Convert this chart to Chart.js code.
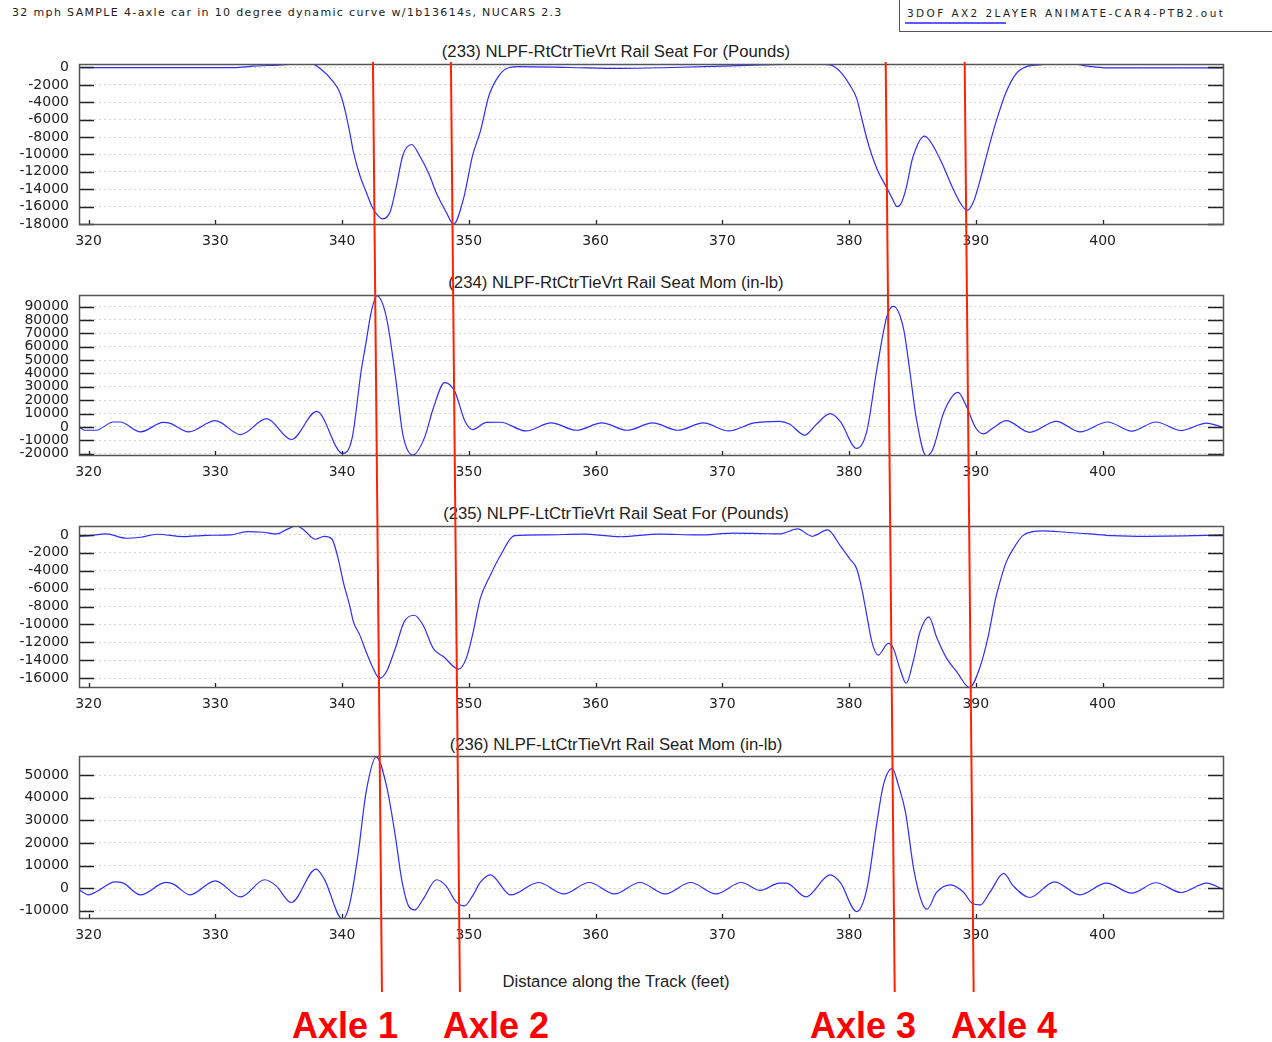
<!DOCTYPE html>
<html><head><meta charset="utf-8">
<script src="https://cdn.jsdelivr.net/npm/chart.js@4.4.1/dist/chart.umd.min.js"></script>
<style>
html,body{margin:0;padding:0;background:#fff;}
body{width:1272px;height:1042px;overflow:hidden;position:relative;font-family:"DejaVu Sans",sans-serif;}
canvas.cv{position:absolute;left:0;}
.t{position:absolute;white-space:nowrap;color:#222;}
.ptitle{font:16.7px "Liberation Sans",Arial,sans-serif;height:20px;line-height:20px;width:1232px;left:0;text-align:center;}
.axle{font:bold 36px "Liberation Sans",Arial,sans-serif;color:#ff0000;height:40px;line-height:40px;}
#overlay{position:absolute;left:0;top:0;pointer-events:none;z-index:5;}
</style></head><body>

<div class="t" style="left:12px;top:5px;font:11px 'DejaVu Sans',sans-serif;letter-spacing:1.35px;line-height:16px;">32 mph SAMPLE 4-axle car in 10 degree dynamic curve w/1b13614s, NUCARS 2.3</div>
<div style="position:absolute;left:899px;top:-2px;width:400px;height:34px;border:1px solid #555;box-sizing:border-box;"></div>
<div class="t" style="left:907px;top:5px;font:10.5px 'DejaVu Sans',sans-serif;letter-spacing:2.4px;line-height:16px;">3DOF AX2 2LAYER ANIMATE-CAR4-PTB2.out</div>
<div style="position:absolute;left:905px;top:22px;width:101px;height:2px;background:#5a5aff;"></div>

<div class="t ptitle" style="top:42px;">(233) NLPF-RtCtrTieVrt Rail Seat For (Pounds)</div>
<div class="t ptitle" style="top:273px;">(234) NLPF-RtCtrTieVrt Rail Seat Mom (in-lb)</div>
<div class="t ptitle" style="top:504px;">(235) NLPF-LtCtrTieVrt Rail Seat For (Pounds)</div>
<div class="t ptitle" style="top:735px;">(236) NLPF-LtCtrTieVrt Rail Seat Mom (in-lb)</div>

<canvas class="cv" id="c1" width="1232" height="220" style="top:44px"></canvas>
<canvas class="cv" id="c2" width="1232" height="220" style="top:275px"></canvas>
<canvas class="cv" id="c3" width="1232" height="221" style="top:506px"></canvas>
<canvas class="cv" id="c4" width="1232" height="222" style="top:736px"></canvas>

<div class="t ptitle" style="top:972px;">Distance along the Track (feet)</div>

<canvas id="overlay" width="1272" height="1042"></canvas>

<div class="t axle" style="left:292px;top:1006px;">Axle 1</div>
<div class="t axle" style="left:443px;top:1006px;">Axle 2</div>
<div class="t axle" style="left:810px;top:1006px;">Axle 3</div>
<div class="t axle" style="left:951px;top:1006px;">Axle 4</div>

<script>
// ---------- data ----------
const xMin = 319.25, xMax = 409.5;
const xTicks = [320, 330, 340, 350, 360, 370, 380, 390, 400];

// (233) Rt rail seat force (lb)
const p1X = [319.25,325,331.5,333,335,336.5,337.6,338.25,339.3,339.8,340.2,340.6,340.9,341.4,341.9,342.4,343.2,343.8,344.3,344.8,345.5,346.1,346.9,347.4,348.2,348.8,349.6,350.3,350.9,351.6,352.4,353.2,354,358,362,366,370,373,376,378,378.5,379.3,380.05,380.6,381.0,381.4,381.8,382.3,383.0,383.4,383.8,384.1,384.5,385.0,385.97,386.6,387.4,388.2,388.9,389.3,389.8,390.3,391.0,391.6,392.4,393.2,394.0,395.0,396.0,398.0,398.8,400.5,409.5];
const p1Y = [-20,-20,-20,150,280,400,400,-100,-1640,-2800,-4700,-7400,-9700,-12400,-14300,-16100,-17400,-16600,-13550,-10100,-8860,-10100,-12400,-14300,-16600,-18000,-15000,-10100,-7400,-3200,-900,0,100,0,-100,0,150,300,380,350,300,-480,-2000,-3550,-5860,-8170,-10100,-12000,-13900,-15050,-16000,-15650,-13900,-10500,-7900,-8940,-11250,-13940,-15870,-16440,-15500,-13150,-9300,-6230,-2800,-670,100,300,400,350,150,-50,-50];

// (234) Rt rail seat moment (in-lb)
const p2X = [319.25,319.7,320.6,321.95,322.5,324.1,325.9,326.4,327.9,330.0,332.0,334.05,336.0,338.0,340.05,340.8,341.5,341.9,342.3,342.75,343.5,344.2,344.8,345.6,346.5,347.2,348.1,348.9,349.7,350.3,351.4,352.5,354.5,356.5,358.5,360.5,362.5,364.5,366.5,368.5,370.5,372.5,374.5,375.3,376.5,377.4,378.5,379.3,380.6,381.4,382.2,383.0,383.5,384.3,384.8,385.3,386.1,386.6,387.5,388.6,389.2,390.0,390.6,391.35,392.4,394.25,396.35,398.2,400.4,402.3,404.2,406.2,408.2,409.5];
const p2Y = [0,-2500,-2500,3700,3700,-3700,3400,2900,-3700,4700,-5700,6200,-9400,11600,-19800,-8200,41200,63500,85800,98000,82000,38800,-5700,-21000,-8200,14000,33100,26400,4200,-2000,3400,3500,-3000,3000,-2500,3000,-2500,3000,-2500,3000,-3000,3000,4200,2200,-6200,1700,9900,4200,-16100,-3200,43700,83300,90200,73400,41300,6700,-21800,-16800,11600,25900,16600,-800,-5200,-800,4700,-4000,4200,-3700,3700,-3200,3700,-2700,2900,-300];

// (235) Lt rail seat force (lb)
const p3X = [319.25,320.1,321.4,323.0,324.1,325.4,327.5,329.3,331.2,332.5,333.8,334.85,335.6,336.4,336.9,337.9,338.6,339.2,339.7,340.1,340.6,340.9,341.4,341.9,342.45,342.95,343.5,344.2,344.9,345.7,346.4,347.2,348.0,349.2,349.8,350.35,350.9,351.7,352.5,353.6,356,359,362,365,368,371,373,374.5,375.95,377.1,378.3,379.3,380.05,380.6,381.0,381.4,381.8,382.3,383.1,383.5,384.0,384.5,385.05,385.6,386.3,386.9,387.7,388.5,389.5,390.3,391.0,391.5,391.9,392.4,392.95,393.7,394.5,395.3,397.1,399.0,400.8,403.45,407.4,409.5];
const p3Y = [-150,-75,110,-370,-260,75,-190,-40,0,370,300,110,590,1000,670,-480,-150,-450,-2670,-5270,-7870,-9720,-11200,-13060,-14900,-16030,-15300,-12700,-9720,-8980,-10100,-12700,-13600,-15000,-13800,-10830,-7120,-4500,-2300,-80,0,100,-200,100,0,200,150,110,670,-150,560,-1190,-2670,-3780,-6000,-8980,-11950,-13430,-12130,-12700,-14900,-16580,-14200,-10830,-9160,-11400,-13800,-15300,-17060,-14900,-11200,-7500,-5270,-3040,-1560,-75,370,450,300,110,-75,-150,-75,0];

// (236) Lt rail seat moment (in-lb)
const p4X = [319.25,320.0,320.6,322.1,322.75,324.1,326.1,326.7,328.0,330.0,332.0,333.9,334.8,336.0,337.95,338.6,340.05,340.6,341.25,341.9,342.7,343.5,344.2,344.7,345.25,345.75,346.4,347.45,348.2,349.0,349.65,350.3,350.9,351.7,353.3,355.5,357.5,359.5,361.5,363.5,365.5,367.5,369.5,371.5,373.0,374.5,375.05,376.6,378.5,379.3,380.6,381.4,382.2,382.7,383.4,383.9,384.45,385.1,385.75,386.15,386.9,388.0,389.05,389.7,390.35,391.1,392.2,392.95,394.25,396.2,398.2,400.3,402.3,404.2,406.2,408.2,409.5];
const p4Y = [-740,-2960,-1630,2810,2220,-2960,2510,1770,-2960,3250,-3850,3700,1000,-6360,8430,4000,-13750,-7100,14350,42400,58000,45400,23200,4000,-7840,-9600,-4880,3700,1000,-6060,-7840,-3400,2500,5900,-3000,2500,-2500,2500,-2500,2500,-2500,2500,-2500,2500,-1000,2220,2220,-3850,5900,2510,-10350,-440,29100,45400,52800,45400,33570,8430,-6360,-9320,-1920,1480,-1920,-6650,-7400,-1920,6500,1000,-4140,2810,-2960,2220,-2220,2370,-1920,2220,-440];

// y-axis ranges and tick labels per panel
const yMins  = [-18000, -21000, -17000, -13200];
const yMaxs  = [400, 98700, 1000, 58400];
const yTicks1 = [-18000, -16000, -14000, -12000, -10000, -8000, -6000, -4000, -2000, 0];
const yTicks2 = [-20000, -10000, 0, 10000, 20000, 30000, 40000, 50000, 60000, 70000, 80000, 90000];
const yTicks3 = [-16000, -14000, -12000, -10000, -8000, -6000, -4000, -2000, 0];
const yTicks4 = [-10000, 0, 10000, 20000, 30000, 40000, 50000];
const yTickSets = [yTicks1, yTicks2, yTicks3, yTicks4];

// axle marker positions (feet) at top of panel 1 and bottom of panel 4
const axleTopFt = [342.44, 348.59, 382.89, 389.12];
const axleBotFt = [343.15, 349.30, 383.60, 389.83];

// ---------- drawing ----------
const framePlugin = {
  id: 'frame',
  afterDraw(chart) {
    const {ctx, chartArea: a, scales} = chart;
    ctx.save();
    ctx.strokeStyle = '#222';
    ctx.lineWidth = 1.3;
    ctx.beginPath();
    scales.y.ticks.forEach(t => {
      const y = Math.round(scales.y.getPixelForValue(t.value)) + 0.5;
      ctx.moveTo(a.left, y); ctx.lineTo(a.left + 15, y);
      ctx.moveTo(a.right, y); ctx.lineTo(a.right - 15, y);
    });
    scales.x.ticks.forEach(t => {
      const x = Math.round(scales.x.getPixelForValue(t.value)) + 0.5;
      ctx.moveTo(x, a.bottom); ctx.lineTo(x, a.bottom - 4);
    });
    ctx.stroke();
    ctx.strokeStyle = '#555';
    ctx.lineWidth = 1.5;
    ctx.strokeRect(Math.round(a.left) + 0.5, Math.round(a.top) + 0.5, Math.round(a.right - a.left), Math.round(a.bottom - a.top));
    ctx.restore();
  }
};

const tickFont = {family: "'DejaVu Sans', sans-serif", size: 14};

function makeChart(id, xs, ys, i) {
  const pts = xs.map((x, k) => ({x: x, y: ys[k]}));
  return new Chart(document.getElementById(id), {
    type: 'line',
    data: {datasets: [{data: pts, borderColor: 'rgb(45,45,255)', borderWidth: 1.2, pointRadius: 0,
      fill: false, cubicInterpolationMode: 'monotone'}]},
    options: {
      responsive: false, animation: false, devicePixelRatio: 1,
      layout: {padding: {top: 20, right: 9, left: 0, bottom: 0}},
      plugins: {legend: {display: false}, tooltip: {enabled: false}, title: {display: false}},
      scales: {
        x: {type: 'linear', min: xMin, max: xMax,
          afterBuildTicks: s => { s.ticks = xTicks.map(v => ({value: v})); },
          ticks: {padding: 9, color: '#222', font: tickFont, maxRotation: 0, autoSkip: false,
            callback: v => String(v)},
          grid: {display: false, drawTicks: false}, border: {display: false},
          afterFit: s => { s.height = 40; }},
        y: {min: yMins[i], max: yMaxs[i],
          afterBuildTicks: s => { s.ticks = yTickSets[i].map(v => ({value: v})); },
          ticks: {padding: 10, color: '#222', font: tickFont, autoSkip: false,
            callback: v => String(v)},
          grid: {color: '#d4d4d4', drawTicks: false, lineWidth: 1},
          border: {display: false, dash: [2, 3]},
          afterFit: s => { s.width = 79; }}
      }
    },
    plugins: [framePlugin]
  });
}

const charts = [
  makeChart('c1', p1X, p1Y, 0),
  makeChart('c2', p2X, p2Y, 1),
  makeChart('c3', p3X, p3Y, 2),
  makeChart('c4', p4X, p4Y, 3)
];

// axle marker lines, positioned through the charts' x scales
(function drawAxles() {
  const ov = document.getElementById('overlay').getContext('2d');
  const top = charts[0], bot = charts[3];
  const topOff = top.canvas.offsetLeft, botOff = bot.canvas.offsetLeft;
  const yTop = 62, yBot = 992;
  ov.strokeStyle = '#ff2200';
  ov.lineWidth = 2;
  axleTopFt.forEach((ft, k) => {
    const x1 = topOff + top.scales.x.getPixelForValue(ft);
    const x2 = botOff + bot.scales.x.getPixelForValue(axleBotFt[k]);
    ov.beginPath(); ov.moveTo(x1, yTop); ov.lineTo(x2, yBot); ov.stroke();
  });
})();
</script>
</body></html>
